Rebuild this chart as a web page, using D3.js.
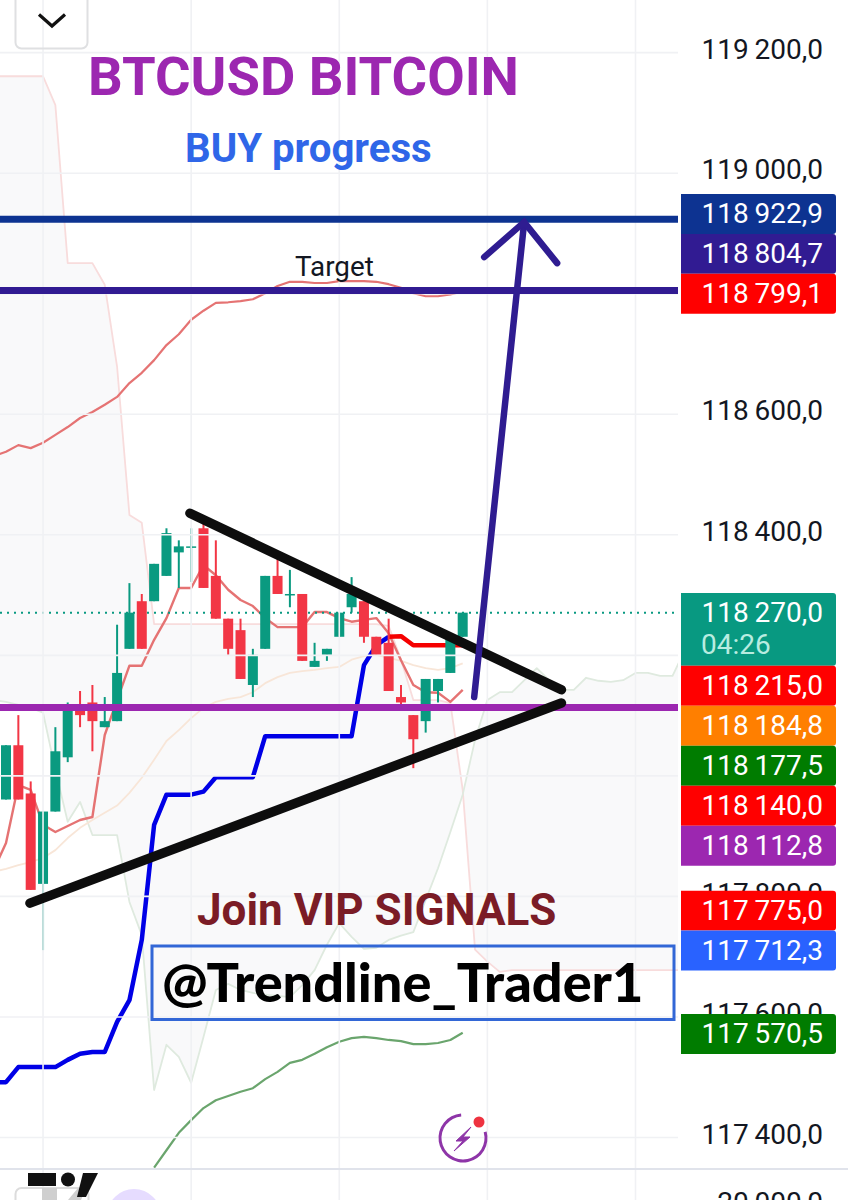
<!DOCTYPE html>
<html>
<head>
<meta charset="utf-8">
<script src="https://cdn.jsdelivr.net/npm/d3@7/dist/d3.min.js"></script>
<style>
html,body{margin:0;padding:0;background:#fff;overflow:hidden}
svg{display:block}
</style>
</head>
<body>
<script>
// Candles (index 0..37)
const opens  = [117960,118050,117970,117820,117940,118030,118112,118121,118080,118090,118210,118289,118289,118331,118370,118378,118410,118331,118260,118241,118150,118210,118331,118299,118301,118180,118200,118230,118279,118289,118230,118220,118130,118100,118090,118140,118170,118230];
const highs  = [118050,118100,117990,117940,118080,118121,118140,118150,118130,118250,118319,118301,118351,118410,118390,118410,118420,118390,118260,118260,118210,118331,118361,118341,118301,118220,118210,118270,118329,118289,118230,118260,118150,118100,118160,118160,118230,118270];
const lows   = [117960,117960,117810,117710,117940,118022,118080,118040,118080,118090,118210,118210,118289,118331,118311,118321,118311,118260,118200,118160,118130,118210,118301,118279,118190,118180,118190,118230,118270,118220,118200,118140,118112,118012,118071,118121,118170,118230];
const closes = [118050,117960,117810,117940,118040,118112,118100,118090,118090,118170,118270,118210,118351,118402,118380,118380,118311,118260,118210,118160,118200,118331,118301,118301,118190,118190,118210,118270,118301,118230,118200,118140,118121,118060,118160,118160,118230,118270];

// Indicator series; these start at index -1
const upperBand = [118530,118537,118548,118543,118552,118565,118578,118593,118603,118615,118628,118651,118668,118689,118714,118732,118756,118771,118784,118785,118787,118790,118800,118812,118819,118819,118817,118817,118820,118820,118820,118819,118815,118809,118800,118795,118795,118798,118803];
const fastLine = [117843,117888,117984,117976,117918,117906,117916,117926,117931,118067,118125,118182,118182,118225,118261,118311,118311,118349,118332,118308,118291,118281,118261,118246,118246,118246,118271,118271,118261,118255,118258,118261,118236,118191,118150,118138,118137,118122,118142];
const slowLine = [117840,117845,117851,117856,117863,117876,117896,117913,117926,117938,117950,117971,117996,118026,118057,118075,118095,118112,118122,118127,118130,118138,118153,118163,118170,118173,118175,118178,118180,118192,118198,118200,118195,118190,118183,118178,118175,118178,118186];
const blueLine = [117491,117491,117516,117516,117516,117516,117528,117538,117541,117541,117591,117627,117727,117918,117968,117968,117968,117973,117997,117997,117997,117997,118065,118065,118065,118065,118065,118065,118065,118065,118183,118216,118230];
// These start at their own index
const redLine = [118230,118231,118216,118216,118216,118216,118216];
const redStart = 31;
const lowerGreen = [117349,117378,117407,117428,117448,117461,117468,117475,117481,117496,117508,117523,117528,117538,117549,117558,117564,117566,117564,117561,117559,117554,117554,117556,117561,117573];
const lowerGreenStart = 12;

// Cloud spans, index -1..55
const spanPink = [119160,119160,119160,119160,119160,119112,118850,118850,118850,118814,118678,118432,118419,118251,118251,118251,118251,118251,118251,118251,118251,118251,118251,118251,118251,118251,118251,118251,118251,118251,118251,118251,118248,118192,118125,118125,118125,118120,117976,117711,117691,117674,117677,117677,117677,117677,117677,117677,117677,117677,117677,117677,117677,117677,117677,117677,117677];
const spanGreen = [118125,118122,118117,118112,118104,118009,117923,117956,117901,117901,117901,117790,117735,117478,117553,117533,117490,117566,117644,117654,117644,117639,117636,117634,117632,117652,117677,117719,117755,117732,117712,117714,117727,117734,117740,117793,117846,117906,117968,118059,118125,118138,118138,118158,118178,118158,118142,118142,118162,118157,118155,118158,118170,118170,118165,118165,118208];

// Drawings, as [index, price]
const trendUpper = [[14.9,118435],[45.0,118142]];
const trendLower = [[1.94,117788],[45.0,118120]];
const arrowShaft = [[37.93,118130],[41.98,118918]];
const arrowHead = [[38.74,118860],[41.98,118918],[44.65,118850]];

// Horizontal levels
const levelPrices = [118922.9,118804.7,118112.8];
const levelColors = ["#0d3391","#311b92","#9c27b0"];

// Axis
const axisTicks = [119200,119000,118800,118600,118400,118200,118000,117800,117600,117400];
const hiddenTickLabels = [118800,118200,118000];
const timeGrid = [3,15,27,39,51];

// Price tags
const tagValues = [118922.9,118804.7,118799.1,118270.0,118215.0,118184.8,118177.5,118140.0,118112.8,117775.0,117712.3,117570.5];
const tagColors = ["#0d3391","#311b92","#ff0000","#089981","#ff0000","#ff7f00","#007c00","#ff0000","#9c27b0","#ff0000","#2962ff","#007c00"];
const tagTops = [194,234,273.7,593,665.7,705.7,745.7,785.7,825.7,890.7,930.5,1014];
const tagHeights = [40,39.7,40,72.7,40,40,40,40,40,39.8,40,40];

const W = 848, H = 1200, paneBottom = 1169, paneRight = 678;
const FONT = "Roboto, sans-serif";
const AXIS_SIZE = 28;

const x = d3.scaleLinear().domain([-1,37]).range([-6.34,462.7]);
const y = d3.scaleLinear().domain([119000,117400]).range([172.7,1137]);
const fmt = d3.formatLocale({decimal:",",thousands:"\u2009",grouping:[3]}).format(",.1f");

const svg = d3.select("body").append("svg").attr("width",W).attr("height",H).attr("viewBox",`0 0 ${W} ${H}`);
svg.append("defs").append("clipPath").attr("id","pane").append("rect").attr("x",0).attr("y",0).attr("width",paneRight).attr("height",paneBottom);
const pane = svg.append("g").attr("clip-path","url(#pane)");

// vertical grid
svg.append("g").selectAll("line").data(timeGrid).join("line")
  .attr("x1",d=>x(d)).attr("x2",d=>x(d)).attr("y1",0).attr("y2",H)
  .attr("stroke","#f0f1f4").attr("stroke-width",1.6);

// horizontal grid + axis labels
const axis = d3.axisRight(y).tickValues(axisTicks)
  .tickFormat(d=>hiddenTickLabels.includes(d)?"":fmt(d)).tickSize(paneRight).tickPadding(0);
const axisG = svg.append("g").call(axis);
axisG.select(".domain").remove();
axisG.selectAll(".tick line").attr("stroke","#f0f1f4").attr("stroke-width",1.6);
axisG.selectAll(".tick text")
  .attr("x",823).attr("dy","0.22em").attr("text-anchor","end")
  .attr("font-family",FONT).attr("font-size",AXIS_SIZE).attr("fill","#131722");
svg.append("text").attr("x",823).attr("y",1212).attr("text-anchor","end")
  .attr("font-family",FONT).attr("font-size",AXIS_SIZE).attr("fill","#131722").text("20\u2009000,0");

// cloud
const cloud = spanPink.map((p,i)=>({i:i-1,a:p,b:spanGreen[i]}));
pane.append("path").datum(cloud)
  .attr("d",d3.area().x(d=>x(d.i)).y0(d=>y(d.a)).y1(d=>y(d.b)))
  .attr("fill","#787b86").attr("fill-opacity",0.045);
const line = d3.line().x(d=>x(d.i)).y(d=>y(d.v));
const ser = (arr,start) => arr.map((v,i)=>({i:i+start,v}));
function drawLine(arr,start,color,w){
  pane.append("path").datum(ser(arr,start)).attr("d",line)
    .attr("fill","none").attr("stroke",color).attr("stroke-width",w).attr("stroke-linejoin","round");
}
drawLine(spanPink,-1,"#f8dcdc",1.8);
drawLine(spanGreen,-1,"#dfeadf",1.8);
drawLine(slowLine,-1,"#f8e6d8",1.8);
drawLine(upperBand,-1,"#e57373",2.2);
drawLine(fastLine,-1,"#e57373",2.4);
drawLine(lowerGreen,lowerGreenStart,"#6aa56d",2.2);
drawLine(blueLine,-1,"#0000e6",4.5);
drawLine(redLine,redStart,"#f50000",4.5);

// last-price dotted line
pane.append("line").attr("x1",0).attr("x2",paneRight).attr("y1",y(118270)).attr("y2",y(118270))
  .attr("stroke","#089981").attr("stroke-width",2).attr("stroke-dasharray","2 5");

// candles
const candles = opens.map((o,i)=>({i,o,h:highs[i],l:lows[i],c:closes[i]}));
const col = d => d.c>=d.o ? "#0a9a80" : "#f23645";
const cg = pane.append("g");
cg.selectAll("line").data(candles).join("line")
  .attr("x1",d=>x(d.i)).attr("x2",d=>x(d.i)).attr("y1",d=>y(d.h)).attr("y2",d=>y(d.l))
  .attr("stroke",col).attr("stroke-width",2);
cg.selectAll("rect").data(candles).join("rect")
  .attr("x",d=>x(d.i)-5).attr("width",10)
  .attr("y",d=>y(Math.max(d.o,d.c))).attr("height",d=>Math.max(1.5,y(Math.min(d.o,d.c))-y(Math.max(d.o,d.c))))
  .attr("fill",col);

// level lines
svg.append("g").selectAll("line").data(levelPrices).join("line")
  .attr("x1",0).attr("x2",paneRight).attr("y1",d=>y(d)).attr("y2",d=>y(d))
  .attr("stroke",(d,i)=>levelColors[i]).attr("stroke-width",7);

// trend lines and arrow
const pLine = d3.line().x(d=>x(d[0])).y(d=>y(d[1]));
svg.append("g").selectAll("path").data([trendUpper,trendLower]).join("path")
  .attr("d",pLine).attr("fill","none").attr("stroke","#0d0d0d").attr("stroke-width",9.5).attr("stroke-linecap","round");
svg.append("g").selectAll("path").data([arrowShaft,arrowHead]).join("path")
  .attr("d",pLine).attr("fill","none").attr("stroke","#2f1c91").attr("stroke-width",6.5)
  .attr("stroke-linecap","round").attr("stroke-linejoin","miter");

// tags
const tags = svg.append("g").selectAll("g").data(tagValues).join("g");
tags.append("path").attr("fill",(d,i)=>tagColors[i])
  .attr("d",(d,i)=>{const t=tagTops[i],b=t+tagHeights[i],l=681,r=836,c=3;
    return `M${l},${t}H${r-c}Q${r},${t} ${r},${t+c}V${b-c}Q${r},${b} ${r-c},${b}H${l}Z`;});
tags.append("text").attr("x",823).attr("y",(d,i)=>tagTops[i]+29).attr("text-anchor","end")
  .attr("font-family",FONT).attr("font-size",AXIS_SIZE).attr("fill","#fff").text(d=>fmt(d));
svg.append("text").attr("x",701).attr("y",tagTops[3]+61).attr("font-family",FONT).attr("font-size",AXIS_SIZE)
  .attr("fill","#b8ece0").text("04:26");

// titles
function label(t,xp,yp,size,color,weight,fam){
  return svg.append("text").attr("x",xp).attr("y",yp).attr("font-family",fam||FONT).attr("font-size",size)
    .attr("font-weight",weight).attr("fill",color).text(t);
}
label("BTCUSD BITCOIN",88,95,54.4,"#9c27b0",700);
label("BUY progress",185,162,40.2,"#2f66e8",700);
label("Target",295,276,27.8,"#131722",400);
label("Join VIP SIGNALS",197,925,44,"#7b1c26",700);
label("@Trendline_Trader1",162,1002,54,"#000",900,"Lato, sans-serif");
svg.append("rect").attr("x",152).attr("y",946).attr("width",522).attr("height",73.5)
  .attr("fill","none").attr("stroke","#3367d6").attr("stroke-width",3);

// top button
svg.append("rect").attr("x",15.5).attr("y",-10).attr("width",72).attr("height",58.5).attr("rx",6)
  .attr("fill","none").attr("stroke","#dfe0e2").attr("stroke-width",2);
svg.append("path").attr("d","M39,14.5L52,26L65,14.5").attr("fill","none").attr("stroke","#111").attr("stroke-width",3.2);

// pane separator
svg.append("line").attr("x1",0).attr("x2",W).attr("y1",paneBottom).attr("y2",paneBottom).attr("stroke","#e0e3eb").attr("stroke-width",2);

// bottom icons
svg.append("rect").attr("x",15.5).attr("y",1188).attr("width",73).attr("height",40).attr("rx",6)
  .attr("fill","#fff").attr("stroke","#dcdcdc").attr("stroke-width",2);
svg.append("path").attr("d","M42,1188H57V1200H42ZM68,1200L78,1188H86L81,1200Z").attr("fill","#cfcfcf");
svg.append("path").attr("d","M28,1173H56V1186H28Z").attr("fill","#111");
svg.append("circle").attr("cx",68).attr("cy",1179.5).attr("r",7).attr("fill","#111");
svg.append("path").attr("d","M83,1173H98L86,1197H77Z").attr("fill","#111");
svg.append("circle").attr("cx",134).attr("cy",1216).attr("r",27).attr("fill","#e6dcff");

// alert icon
const icon = svg.append("g").attr("transform","translate(463,1138)");
icon.append("path").attr("d",d3.arc()({innerRadius:21.5,outerRadius:24.5,startAngle:1.3,endAngle:Math.PI*2-0.08})).attr("fill","#8e35a8");
icon.append("path").attr("d","M8,-11L-7,3H0L-9,13L7,-1H0Z").attr("fill","#8e35a8").attr("stroke","#8e35a8").attr("stroke-width",1);
svg.append("circle").attr("cx",479).attr("cy",1122).attr("r",5.5).attr("fill","#ee3340");
</script>
</body>
</html>
